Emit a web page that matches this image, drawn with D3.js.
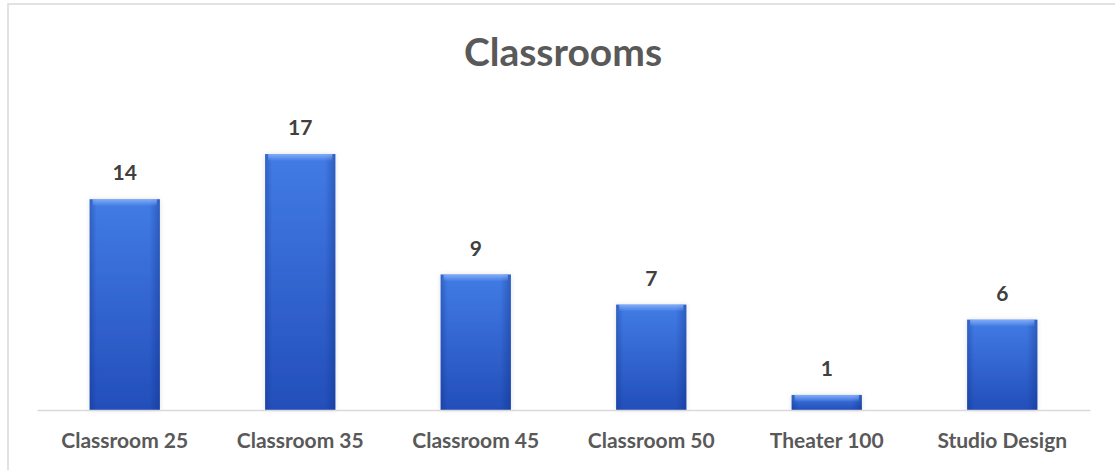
<!DOCTYPE html>
<html>
<head>
<meta charset="utf-8">
<script src="https://cdn.jsdelivr.net/npm/d3@7"></script>
<style>
  body { margin: 0; background: #fff; }
  text { font-family: Lato, "Open Sans", sans-serif; font-weight: bold; }
</style>
</head>
<body>
<svg width="1115" height="470"></svg>
<script>
var categories = ["Classroom 25", "Classroom 35", "Classroom 45", "Classroom 50", "Theater 100", "Studio Design"];
var values = [14, 17, 9, 7, 1, 6];
var title = "Classrooms";

var svg = d3.select("svg");

// chart area border (cut off on right and bottom in the original)
svg.append("rect")
    .attr("x", 8).attr("y", 4)
    .attr("width", 1120).attr("height", 480)
    .attr("fill", "none")
    .attr("stroke", "#d9d9d9")
    .attr("stroke-width", 1.5);

var defs = svg.append("defs");

var vg = defs.append("linearGradient").attr("id", "barV")
    .attr("x1", 0).attr("y1", 0).attr("x2", 0).attr("y2", 1);
vg.append("stop").attr("offset", "0%").attr("stop-color", "#4580ea");
vg.append("stop").attr("offset", "100%").attr("stop-color", "#2450bd");

var hg = defs.append("linearGradient").attr("id", "barH")
    .attr("x1", 0).attr("y1", 0).attr("x2", 1).attr("y2", 0);
hg.append("stop").attr("offset", "0%").attr("stop-color", "#0a2a80").attr("stop-opacity", 0.35);
hg.append("stop").attr("offset", "10%").attr("stop-color", "#0a2a80").attr("stop-opacity", 0.05);
hg.append("stop").attr("offset", "85%").attr("stop-color", "#0a2a80").attr("stop-opacity", 0.05);
hg.append("stop").attr("offset", "100%").attr("stop-color", "#0a2a80").attr("stop-opacity", 0.4);

var tg = defs.append("linearGradient").attr("id", "barTop")
    .attr("x1", 0).attr("y1", 0).attr("x2", 0).attr("y2", 1);
tg.append("stop").attr("offset", "0%").attr("stop-color", "#8fb8ff").attr("stop-opacity", 0.8);
tg.append("stop").attr("offset", "100%").attr("stop-color", "#8fb8ff").attr("stop-opacity", 0);

var f = defs.append("filter").attr("id", "glow")
    .attr("x", "-20%").attr("y", "-20%").attr("width", "140%").attr("height", "140%");
f.append("feDropShadow").attr("dx", 0).attr("dy", 0)
    .attr("stdDeviation", 2.5).attr("flood-color", "#000").attr("flood-opacity", 0.12);

var x = d3.scaleBand()
    .domain(categories)
    .range([37, 1090])
    .paddingInner(0.6)
    .paddingOuter(0.3);

var y = d3.scaleLinear()
    .domain([0, 18])
    .range([410, 139]);

svg.append("text")
    .attr("x", 563)
    .attr("y", 66)
    .attr("text-anchor", "middle")
    .attr("fill", "#595959")
    .attr("font-size", 39)
    .text(title);

var bars = svg.append("g").selectAll("g")
    .data(values)
    .enter().append("g");

bars.append("rect")
    .attr("x", function(d, i) { return x(categories[i]); })
    .attr("y", function(d) { return y(d); })
    .attr("width", x.bandwidth())
    .attr("height", function(d) { return y(0) - y(d); })
    .attr("fill", "url(#barV)")
    .attr("filter", "url(#glow)");

bars.append("rect")
    .attr("x", function(d, i) { return x(categories[i]); })
    .attr("y", function(d) { return y(d); })
    .attr("width", x.bandwidth())
    .attr("height", function(d) { return y(0) - y(d); })
    .attr("fill", "url(#barH)");

bars.append("rect")
    .attr("x", function(d, i) { return x(categories[i]) + 3; })
    .attr("y", function(d) { return y(d); })
    .attr("width", x.bandwidth() - 6)
    .attr("height", function(d) { return Math.min(7, y(0) - y(d)); })
    .attr("fill", "url(#barTop)");

bars.append("text")
    .attr("x", function(d, i) { return x(categories[i]) + x.bandwidth() / 2; })
    .attr("y", function(d) { return y(d) - 19; })
    .attr("text-anchor", "middle")
    .attr("fill", "#404040")
    .attr("font-size", 21)
    .text(function(d) { return d; });

// baseline / category axis
var axis = svg.append("g")
    .attr("transform", "translate(0," + y(0) + ")")
    .call(d3.axisBottom(x).tickSize(0).tickPadding(23));

axis.select(".domain")
    .attr("stroke", "#d9d9d9")
    .attr("stroke-width", 1.5);

axis.selectAll("text")
    .attr("fill", "#595959")
    .attr("font-size", 21)
    .attr("font-family", "Lato, 'Open Sans', sans-serif")
    .attr("font-weight", "bold");
</script>
</body>
</html>
